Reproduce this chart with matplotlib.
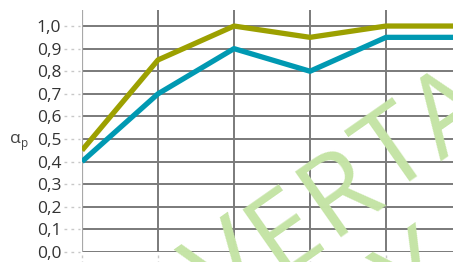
import numpy as np
import matplotlib.pyplot as plt

plt.rcParams['font.family'] = ['Open Sans', 'DejaVu Sans']

# data
x = [0, 1, 2, 3, 4, 5]
olive = [0.45, 0.85, 1.00, 0.95, 1.00, 1.00]
teal = [0.40, 0.70, 0.90, 0.80, 0.95, 0.95]
yticks = [0.0, 0.1, 0.2, 0.3, 0.4, 0.5, 0.6, 0.7, 0.8, 0.9, 1.0]
ytick_labels = ['0,0', '0,1', '0,2', '0,3', '0,4', '0,5', '0,6', '0,7', '0,8', '0,9', '1,0']

W, H = 453, 262
fig = plt.figure(figsize=(W / 100, H / 100), dpi=100)
ax = fig.add_axes([82 / W, 10 / H, 380 / W, 242 / H])

ax.set_xlim(0, 5)
ax.set_ylim(0, 1.071)


# watermark, letter by letter along a tilted baseline (pixel coords)
def watermark(word, x0, y0, first=0, ang=35, step=68):
    c, s = np.cos(np.radians(ang)), np.sin(np.radians(ang))
    for i, ch in enumerate(word):
        k = i - first
        fig.text(x0 + k * step * c, y0 + k * step * s, ch, transform=None,
                 fontsize=80, color='#c5e4a6', rotation=ang, rotation_mode='anchor',
                 ha='center', va='baseline', zorder=0)


watermark('VERTAALD', 247, -34)
watermark('COPY', 436, -43, first=3)

grid_c = '#7a7a7a'
for yv in yticks:
    ax.axhline(yv, color=grid_c, lw=1.4, zorder=1)
    ax.plot([-0.24, -0.02], [yv, yv], color='#c8c8c8', lw=1.0, ls=(0, (2, 3)),
            clip_on=False, zorder=1)
for xv in x[1:]:
    ax.axvline(xv, color=grid_c, lw=1.4, zorder=1)
for xv in x:
    ax.plot([xv, xv], [-0.015, -0.04], color='#c8c8c8', lw=1.0, ls=(0, (2, 2)),
            clip_on=False, zorder=1)
ax.axvline(0, color='#a8a8a8', lw=1.6, zorder=1)

ax.plot(x, olive, color='#9ca000', lw=3.8, solid_capstyle='butt', zorder=3)
ax.plot(x, teal, color='#0099b2', lw=3.8, solid_capstyle='butt', zorder=3)

for s in ax.spines.values():
    s.set_visible(False)
ax.set_xticks([])
ax.set_yticks(yticks)
ax.set_yticklabels(ytick_labels, fontsize=12.5, color='#333333')
ax.tick_params(axis='y', length=0, pad=15)
ax.patch.set_alpha(0)

ax.text(-0.80, 0.5, 'α', fontsize=12.5, color='#444444', ha='right', va='center')
ax.text(-0.80, 0.48, 'p', fontsize=8.5, color='#444444', ha='left', va='center')

fig.savefig('out.png', dpi=100)
